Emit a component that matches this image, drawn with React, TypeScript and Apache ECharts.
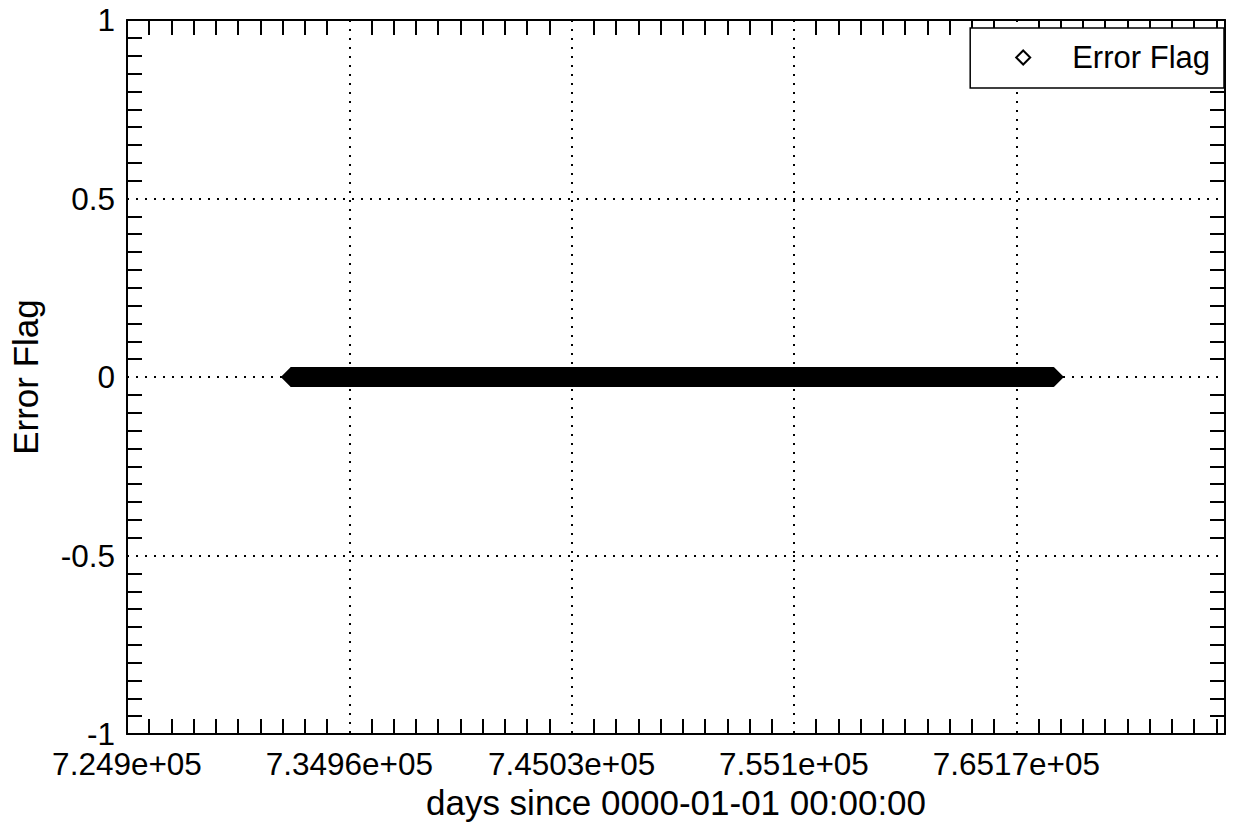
import React, { useEffect, useRef } from "react";
import * as echarts from "echarts";

// Data
const seriesName = "Error Flag";
const dates = [732313, 766870]; // first / last sample (days since 0000-01-01)
const flags = [0, 0];

const xMin = 724896;
const xMax = 774620;
const xInterval = 10068;
const yMin = -1;
const yMax = 1;
const yInterval = 0.5;

const FONT = "'Liberation Sans', Arial, Helvetica, sans-serif";

function fmtExp(v: number): string {
  const s = v.toExponential(4);
  let [m, e] = s.split("e");
  if (m.includes(".")) m = m.replace(/0+$/, "").replace(/\.$/, "");
  const sign = e[0] === "-" ? "-" : "+";
  const digits = e.replace(/^[+-]/, "").padStart(2, "0");
  return `${m}e${sign}${digits}`;
}

function fmtY(v: number): string {
  return String(Math.round(v * 100) / 100);
}

export default function App() {
  const ref = useRef<HTMLDivElement>(null);
  useEffect(() => {
    if (!ref.current) return;
    const chart = echarts.init(ref.current, null, { renderer: "svg" });
    const axisLine = { show: true, onZero: false, lineStyle: { color: "#000", width: 2 } };
    const axisTick = { show: false, inside: true };
    const minorTick = { show: true, splitNumber: 10, length: 15, lineStyle: { color: "#000", width: 2 } };
    const dotted = { show: true, lineStyle: { color: "#000", width: 2, type: [2, 7] as any } };
    const data = dates.map((d, i) => [d, flags[i]]);
    chart.setOption({
      animation: false,
      backgroundColor: "#fff",
      textStyle: { fontFamily: FONT },
      grid: { left: 127, right: 14, top: 20, bottom: 90, containLabel: false },
      legend: {
        right: 15,
        top: 28,
        orient: "vertical",
        padding: [14, 14, 15, 45],
        borderColor: "#000",
        borderWidth: 1.5,
        backgroundColor: "#fff",
        itemWidth: 14,
        itemHeight: 14,
        data: [
          {
            name: seriesName,
            icon: "diamond",
            itemStyle: { color: "#fff", borderColor: "#000", borderWidth: 2 },
          },
        ],
        textStyle: { fontSize: 31, color: "#000", fontFamily: FONT, padding: [0, 0, 0, 37] },
      },
      xAxis: [
        {
          type: "value",
          position: "bottom",
          min: xMin,
          max: xMax,
          interval: xInterval,
          name: "days since 0000-01-01 00:00:00",
          nameLocation: "middle",
          nameGap: 40,
          nameTextStyle: { fontSize: 35, color: "#000", fontFamily: FONT },
          axisLine,
          axisTick,
          minorTick,
          splitLine: dotted,
          axisLabel: {
            formatter: fmtExp,
            fontSize: 31.5,
            lineHeight: 26,
            color: "#000",
            margin: 17,
            showMaxLabel: false,
            fontFamily: FONT,
          },
        },
        {
          type: "value",
          position: "top",
          min: xMin,
          max: xMax,
          interval: xInterval,
          axisLine,
          axisTick,
          minorTick,
          splitLine: { show: false },
          axisLabel: { show: false },
        },
      ],
      yAxis: [
        {
          type: "value",
          position: "left",
          min: yMin,
          max: yMax,
          interval: yInterval,
          name: "Error Flag",
          nameLocation: "middle",
          nameGap: 84,
          nameTextStyle: { fontSize: 35, color: "#000", fontFamily: FONT },
          axisLine,
          axisTick,
          minorTick,
          splitLine: dotted,
          axisLabel: {
            formatter: fmtY,
            fontSize: 31.5,
            lineHeight: 26,
            color: "#000",
            margin: 12,
            fontFamily: FONT,
          },
        },
        {
          type: "value",
          position: "right",
          min: yMin,
          max: yMax,
          interval: yInterval,
          axisLine,
          axisTick,
          minorTick,
          splitLine: { show: false },
          axisLabel: { show: false },
        },
      ],
      series: [
        {
          name: seriesName,
          type: "line",
          xAxisIndex: 0,
          yAxisIndex: 0,
          data,
          symbol: "diamond",
          symbolSize: 20,
          showSymbol: true,
          lineStyle: { color: "#000", width: 20, cap: "butt" },
          itemStyle: { color: "#000" },
          z: 5,
        },
      ],
    });
    return () => chart.dispose();
  }, []);
  return <div ref={ref} style={{ width: 1239, height: 825, position: "absolute", left: 0, top: 0 }} />;
}
